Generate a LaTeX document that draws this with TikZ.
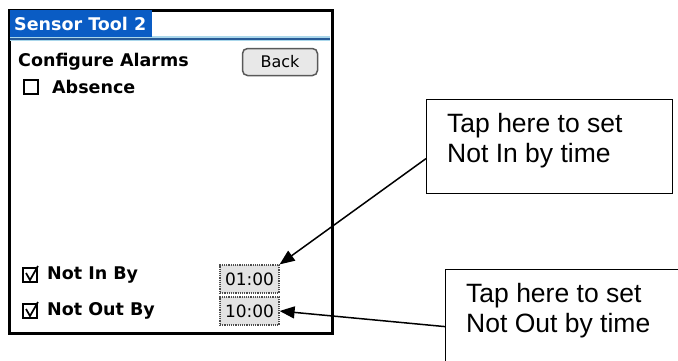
\documentclass[tikz,border=0pt]{standalone}
\usepackage{fontspec}
\setmainfont{Liberation Sans}
\newfontfamily\palmfont{DejaVu Sans}
\usetikzlibrary{arrows.meta, positioning}

\definecolor{palmblue}{RGB}{10,92,196}
\definecolor{palmline}{RGB}{40,90,150}
\definecolor{palmglow}{RGB}{170,215,235}

\begin{document}
\begin{tikzpicture}[
        x = 1pt, y = -1pt,
        >= {Triangle[length = 15pt, width = 12pt]},
        palmtext/.style = {font = \palmfont\bfseries\fontsize{17.5}{17.5}\selectfont, inner sep = 0pt, anchor = west},
        backbtn/.style = {draw = gray!70!black, line width = 1.5pt, fill = gray!18, rounded corners = 5pt,
                          minimum width = 75pt, minimum height = 27pt, inner sep = 0pt,
                          font = \palmfont\fontsize{16}{16}\selectfont},
        tickbox/.style = {draw, line width = 1.5pt, minimum size = 14pt, inner sep = 0pt},
        timefield/.style = {draw = gray!60!black, densely dotted, line width = 1.2pt, fill = gray!22,
                            minimum width = 59pt, minimum height = 28pt, inner sep = 0pt,
                            font = \palmfont\fontsize{17}{17}\selectfont},
        callout/.style = {draw, line width = 1.2pt, fill = white},
        calltext/.style = {font = \fontsize{26.5}{30}\selectfont, align = left, inner sep = 0pt, anchor = north west},
        callarrow/.style = {->, line width = 1.5pt}
    ]
      \useasboundingbox (0,0) rectangle (678,360);
      \clip (0,0) rectangle (678,360);

      % the handheld screen
      \node[draw, line width = 3pt, minimum width = 323pt, minimum height = 323pt, anchor = north west,
            inner sep = 0pt] (screen) at (8,9) {};
      \fill[palmglow] (10,36) rectangle (330,41);
      \fill[palmline] (10,37.5) rectangle (330,39.5);
      \node[fill = palmblue, minimum width = 142pt, minimum height = 27pt, anchor = north west,
            inner sep = 0pt] (tab) at (10,10) {};
      \node[palmtext, text = white] (title) at (14,24) {Sensor Tool 2};

      \node[palmtext] (configure) at (18,62) {Configure Alarms};
      \node[backbtn] (back) at (280,62) {Back};
      \node[tickbox] (absbox) at (31,87) {};
      \node[palmtext] (absence) at (52,87) {Absence};

      \node[tickbox] (inbox) at (30,275) {};
      \draw[line width = 1.7pt] (26,273) -- (30,280) -- (38,266);
      \node[palmtext] (notin) at (47,275) {Not In By};
      \node[tickbox] (outbox) at (30,311) {};
      \draw[line width = 1.7pt] (26,309) -- (30,316) -- (38,302);
      \node[palmtext] (notout) at (47,311) {Not Out By};

      \node[timefield] (intime) at (249.5,279) {01:00};
      \node[timefield] (outtime) at (249.5,311) {10:00};

      % callouts
      \node[callout, minimum width = 246pt, minimum height = 94pt, anchor = north west] (callin) at (426,99) {};
      \node[calltext] (callintext) at (447,113) {Tap here to set\\Not In by time};
      \node[callout, minimum width = 260pt, minimum height = 114pt, anchor = north west] (callout) at (445,269) {};
      \node[calltext] (callouttext) at (466,283) {Tap here to set\\Not Out by time};

      \draw[callarrow] ([yshift = -12pt]callin.west) -- (intime.north east);
      \draw[callarrow] (callout.west) -- (outtime.east);
    \end{tikzpicture}
\end{document}
